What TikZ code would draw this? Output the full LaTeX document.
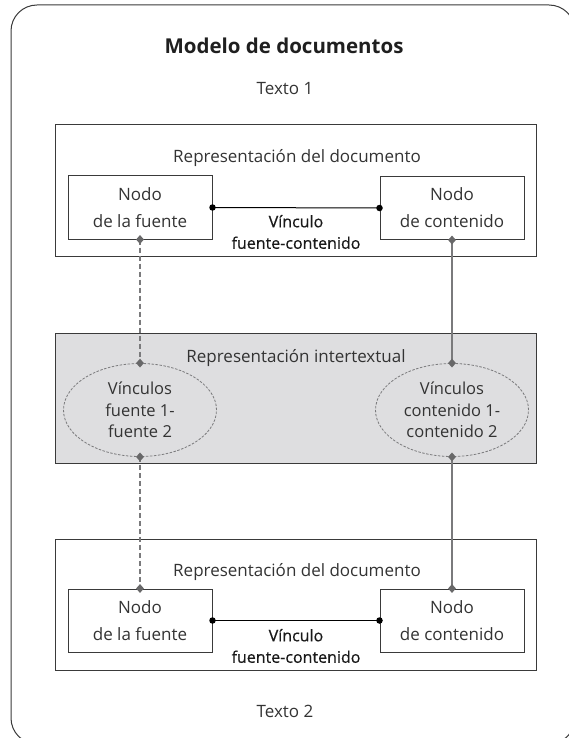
\documentclass[tikz,border=0pt]{standalone}
\usepackage{fontspec}
\setmainfont{Open Sans}
\newfontfamily\semib[FakeBold=0.6]{Open Sans}
\usetikzlibrary{shapes.geometric}
\definecolor{boxfill}{HTML}{DEDEE0}
\definecolor{linegray}{HTML}{7A7A7C}
\definecolor{txt}{HTML}{333333}
\definecolor{edge}{HTML}{3A3A3A}
\begin{document}
\begin{tikzpicture}[x=1pt,y=-1pt,
  framestyle/.style={draw=edge,line width=1pt,rounded corners=26pt},
  docbox/.style={draw=edge,line width=1pt,rectangle,inner sep=0pt,minimum width=481pt,minimum height=131pt},
  midbox/.style={docbox,fill=boxfill,minimum height=130pt},
  nodebox/.style={draw=edge,line width=1pt,rectangle,inner sep=0pt,minimum width=144pt,minimum height=63pt,
    align=center,text=txt,font=\fontsize{17}{27}\selectfont},
  ellbox/.style={ellipse,draw=linegray,line width=0.8pt,dash pattern=on 2.5pt off 1.5pt,inner sep=0pt,
    minimum width=153pt,minimum height=93pt,align=center,text=txt,font=\fontsize{16.5}{21.5}\selectfont},
  plain/.style={text=txt,font=\fontsize{17}{22}\selectfont,anchor=base,inner sep=0pt},
  linklabel/.style={align=center,text=black!90,font=\semib\fontsize{16}{21.5}\selectfont,inner sep=0pt},
  linkline/.style={draw=black,line width=1pt},
  dotmark/.style={circle,fill=black,inner sep=0pt,minimum size=6.5pt},
  diam/.style={diamond,fill=linegray!85!black,inner sep=0pt,minimum width=8pt,minimum height=9pt},
  vsolid/.style={draw=linegray,line width=2pt},
  vdash/.style={draw=linegray,line width=2pt,dash pattern=on 5pt off 3pt}
]
\useasboundingbox (0,0) rectangle (569,738);
\begin{scope}
\clip (0,0) rectangle (569,738);
\draw[framestyle] (11,5) rectangle (575,744);
\end{scope}

\node[text=black!88,font=\bfseries\fontsize{20.5}{24}\selectfont,anchor=base,inner sep=0pt] (title) at (284,54) {Modelo de documentos};
\node[plain] (t1) at (285,95) {Texto 1};

% top document representation
\node[docbox] (doc1) at (295.5,190.5) {};
\node[plain] (doc1lab) at (297,163) {Representación del documento};
\node[nodebox] (nf1) at (140,207.5) {Nodo\\de la fuente};
\node[nodebox] (nc1) at (452,208) {Nodo\\de contenido};
\node[linklabel] (l1) at (296,232) {Vínculo\\fuente-contenido};
\draw[linkline] (nf1.east) -- (nc1.west);
\node[dotmark] at (nf1.east) {};
\node[dotmark] at (nc1.west) {};

% intertextual representation
\node[midbox] (mid) at (295.5,398) {};
\node[plain] (midlab) at (296,362) {Representación intertextual};
\node[ellbox] (e1) at (140,410) {Vínculos\\fuente 1-\\fuente 2};
\node[ellbox] (e2) at (452,410) {Vínculos\\contenido 1-\\contenido 2};

% bottom document representation
\node[docbox] (doc2) at (295.5,605) {};
\node[plain] (doc2lab) at (297,576) {Representación del documento};
\node[nodebox] (nf2) at (140,620.5) {Nodo\\de la fuente};
\node[nodebox] (nc2) at (452,620.5) {Nodo\\de contenido};
\node[linklabel] (l2) at (296,646) {Vínculo\\fuente-contenido};
\draw[linkline] (nf2.east) -- (nc2.west);
\node[dotmark] at (nf2.east) {};
\node[dotmark] at (nc2.west) {};

\node[plain] (t2) at (285,717) {Texto 2};

% vertical connectors
\draw[vdash] (nf1.south) -- (e1.north);
\draw[vsolid] (nc1.south) -- (e2.north);
\draw[vdash] (e1.south) -- (nf2.north);
\draw[vsolid] (e2.south) -- (nc2.north);
\foreach \p in {nf1.south,e1.north,nc1.south,e2.north,e1.south,nf2.north,e2.south,nc2.north}
  \node[diam] at (\p) {};
\end{tikzpicture}
\end{document}
